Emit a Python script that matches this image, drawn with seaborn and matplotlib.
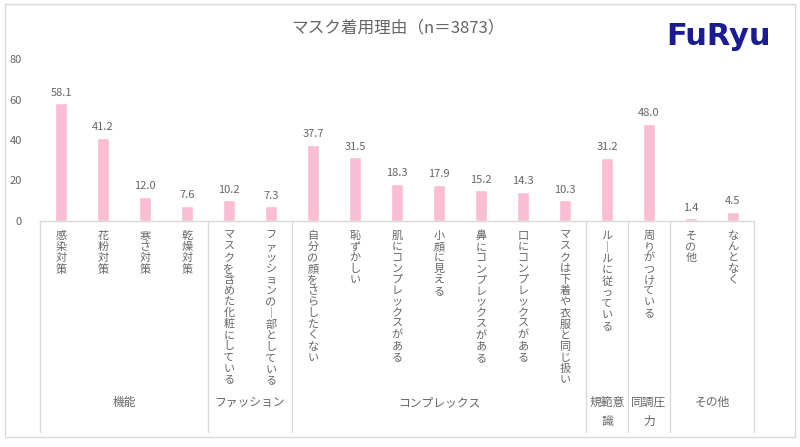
import pandas as pd
import matplotlib.pyplot as plt
import seaborn as sns
from matplotlib.patches import Rectangle

# データ
categories = ["感染対策", "花粉対策", "寒さ対策", "乾燥対策",
              "マスクを含めた化粧にしている", "ファッションの一部としている",
              "自分の顔をさらしたくない", "恥ずかしい", "肌にコンプレックスがある",
              "小顔に見える", "鼻にコンプレックスがある", "口にコンプレックスがある",
              "マスクは下着や衣服と同じ扱い", "ルールに従っている", "周りがつけている",
              "その他", "なんとなく"]
values = [58.1, 41.2, 12.0, 7.6, 10.2, 7.3, 37.7, 31.5, 18.3, 17.9, 15.2, 14.3,
          10.3, 31.2, 48.0, 1.4, 4.5]
groups = ["機能", "ファッション", "コンプレックス", "規範意\n識", "同調圧\n力", "その他"]
group_sizes = [4, 2, 7, 1, 1, 2]

df = pd.DataFrame({"category": categories, "value": values})

sns.set_theme(style="white")
plt.rcParams["font.family"] = ["Noto Sans CJK JP", "DejaVu Sans"]

text_color = "#666666"
line_color = "#d9d9d9"
bar_color = "#FBBDD3"

fig = plt.figure(figsize=(8, 4.47), dpi=100)
ax = fig.add_axes([0.05, 0.5056, 0.8925, 0.3624])

sns.barplot(data=df, x="category", y="value", color=bar_color, width=0.3,
            saturation=1, ax=ax)

ax.set_ylim(0, 80)
ax.set_yticks([0, 20, 40, 60, 80])
ax.set_xlim(-0.5, len(categories) - 0.5)
ax.set_xlabel("")
ax.set_ylabel("")
ax.set_xticks([])
ax.tick_params(axis="y", length=0, pad=13, labelsize=8, labelcolor=text_color)
for s in ["top", "right", "left"]:
    ax.spines[s].set_visible(False)
ax.spines["bottom"].set_color(line_color)
ax.spines["bottom"].set_linewidth(1)

# 値ラベル
for i, v in enumerate(values):
    ax.annotate(f"{v:.1f}", (i, v), xytext=(0, 4), textcoords="offset points",
                ha="center", va="bottom", fontsize=8, color=text_color)

# 縦書きラベル
trans = ax.get_xaxis_transform()
for i, c in enumerate(categories):
    vert = "\n".join(c.replace("ー", "｜").replace("一", "｜"))
    ax.text(i, -0.06, vert, transform=trans, ha="center", va="top",
            fontsize=8, color=text_color, linespacing=1.13)

# グループ区切りとラベル
start = 0
bounds = [-0.5]
for g, n in zip(groups, group_sizes):
    center = start + (n - 1) / 2
    ax.text(center, -1.08, g, transform=trans, ha="center", va="top",
            fontsize=8.5, color=text_color, linespacing=1.6)
    start += n
    bounds.append(start - 0.5)
for b in bounds:
    ax.plot([b, b], [0, -1.30], transform=trans, color=line_color, lw=1,
            clip_on=False)

# タイトルとロゴ
fig.text(0.497, 0.937, "マスク着用理由（n＝3873）", ha="center", va="center",
         fontsize=12, color=text_color)
fig.text(0.898, 0.919, "FuRyu", ha="center", va="center", fontsize=22,
         fontweight="bold", color="#1B1B96", family="DejaVu Sans")

# 外枠
fig.patches.append(Rectangle((5 / 800, 10 / 447), 790 / 800, 433 / 447,
                             transform=fig.transFigure, fill=False,
                             edgecolor=line_color, lw=1))

fig.savefig("out.png", dpi=100)
